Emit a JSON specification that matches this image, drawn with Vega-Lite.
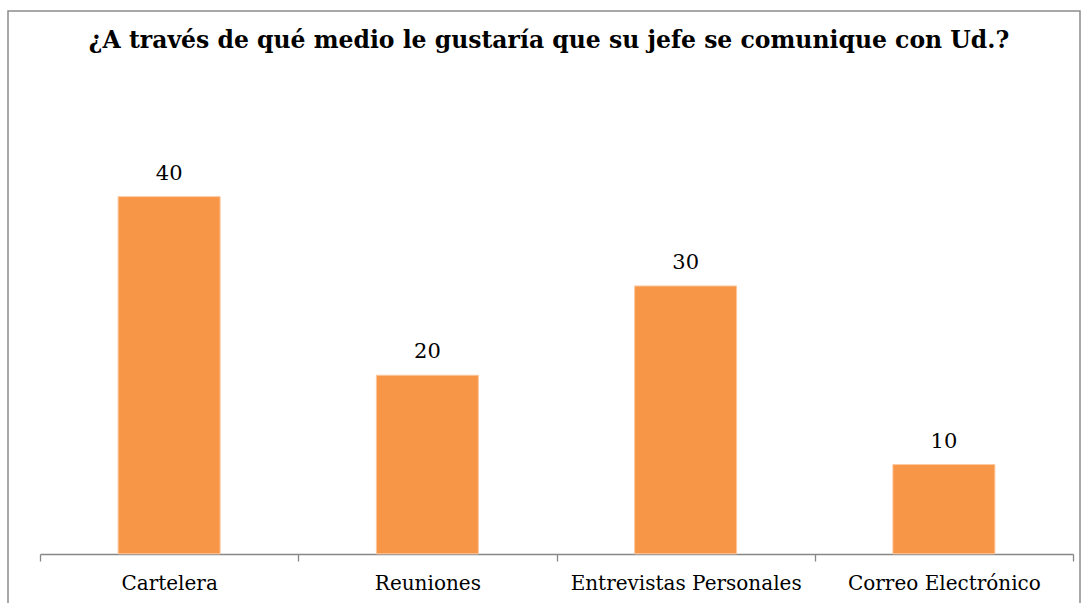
{
  "$schema": "https://vega.github.io/schema/vega-lite/v6.json",
  "autosize": {"type": "none"},
  "width": 1072,
  "height": 594,
  "padding": {"left": 8, "top": 11, "right": 3, "bottom": 0},
  "background": "white",
  "title": {
    "text": "¿A través de qué medio le gustaría que su jefe se comunique con Ud.?",
    "font": "DejaVu Serif",
    "fontSize": 23.5,
    "fontWeight": "bold",
    "color": "#000000",
    "anchor": "middle",
    "frame": "group",
    "offset": -41,
    "dx": 5
  },
  "config": {
    "view": {"stroke": "#8c8c8c", "strokeWidth": 1.5}
  },
  "data": {
    "values": [
      {"medio": "Cartelera", "valor": 40},
      {"medio": "Reuniones", "valor": 20},
      {"medio": "Entrevistas Personales", "valor": 30},
      {"medio": "Correo Electrónico", "valor": 10}
    ]
  },
  "encoding": {
    "x": {
      "field": "medio",
      "type": "nominal",
      "sort": null,
      "scale": {"range": [32, 1065], "paddingInner": 0, "paddingOuter": 0},
      "axis": {
        "title": null,
        "labelAngle": 0,
        "labelFont": "DejaVu Serif",
        "labelFontSize": 20,
        "labelLimit": 0,
        "labelColor": "#000000",
        "labelPadding": 12,
        "domainColor": "#878787",
        "domainWidth": 1.3,
        "tickColor": "#878787",
        "tickWidth": 1.3,
        "tickSize": 7,
        "tickBand": "extent",
        "offset": -51,
        "grid": false
      }
    },
    "y": {
      "field": "valor",
      "type": "quantitative",
      "scale": {"domain": [-5.73, 60.79], "nice": false, "zero": false},
      "axis": null
    }
  },
  "layer": [
    {
      "mark": {"type": "bar", "color": "#F79646", "stroke": "#FBC8A0", "strokeWidth": 1, "width": {"band": 0.395}}
    },
    {
      "mark": {"type": "text", "baseline": "alphabetic", "dy": -17, "font": "DejaVu Serif", "fontSize": 21, "color": "#000000"},
      "encoding": {"text": {"field": "valor", "type": "quantitative"}}
    }
  ]
}
